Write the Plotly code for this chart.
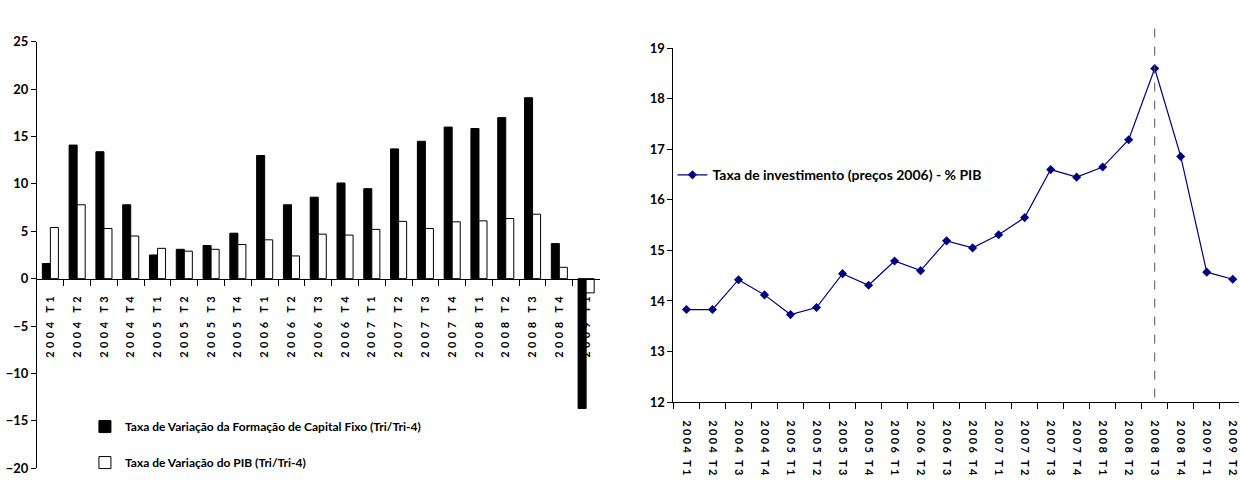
import plotly.graph_objects as go

# Quarterly labels
quarters_left = [
    "2004 T1", "2004 T2", "2004 T3", "2004 T4",
    "2005 T1", "2005 T2", "2005 T3", "2005 T4",
    "2006 T1", "2006 T2", "2006 T3", "2006 T4",
    "2007 T1", "2007 T2", "2007 T3", "2007 T4",
    "2008 T1", "2008 T2", "2008 T3", "2008 T4",
    "2009 T1",
]
quarters_right = quarters_left + ["2009 T2"]

# Year-on-year growth rates (%)
fbcf_growth = [1.6, 14.1, 13.4, 7.8, 2.5, 3.1, 3.5, 4.8, 13.0, 7.8, 8.6,
               10.1, 9.5, 13.7, 14.5, 16.0, 15.85, 17.0, 19.1, 3.7, -13.7]
pib_growth = [5.4, 7.8, 5.3, 4.5, 3.2, 2.9, 3.1, 3.6, 4.1, 2.4, 4.7,
              4.6, 5.2, 6.05, 5.3, 6.0, 6.1, 6.35, 6.8, 1.2, -1.5]

# Investment rate (2006 prices), % of GDP
invest_rate = [13.83, 13.83, 14.42, 14.12, 13.73, 13.87, 14.54, 14.31,
               14.79, 14.60, 15.19, 15.05, 15.31, 15.65, 16.60, 16.45,
               16.65, 17.19, 18.60, 16.86, 14.57, 14.43]

left_yticks = [-20, -15, -10, -5, 0, 5, 10, 15, 20, 25]
right_yticks = [12, 13, 14, 15, 16, 17, 18, 19]
marked_quarter = "2008 T3"

FONT = "Lato"
W, H = 1240, 480


def spaced(labels, gap):
    return [f'<span style="letter-spacing:{gap}px">{t}</span>' for t in labels]


fig = go.Figure()

fig.add_trace(go.Bar(
    x=quarters_left, y=fbcf_growth,
    name="Taxa de Variação da Formação de Capital Fixo (Tri/Tri-4)",
    marker=dict(color="black", line=dict(color="black", width=1)),
    xaxis="x", yaxis="y", legend="legend", legendgroup="a",
))
fig.add_trace(go.Bar(
    x=quarters_left, y=pib_growth,
    name="Taxa de Variação do PIB (Tri/Tri-4)",
    marker=dict(color="white", line=dict(color="black", width=1)),
    xaxis="x", yaxis="y", legend="legend", legendgroup="b",
))
fig.add_trace(go.Scatter(
    x=quarters_right, y=invest_rate, mode="lines+markers",
    name="Taxa de investimento (preços 2006) - % PIB",
    line=dict(color="#000080", width=1.2),
    marker=dict(symbol="diamond", size=7, color="#000080"),
    xaxis="x2", yaxis="y2", legend="legend2",
))

tickfont = dict(family=FONT, size=13, color="black", weight="bold")
xtickfont = dict(family=FONT, size=11, color="black", weight="bold")

# Left panel: plot area x 37..600 px, y 35..476 px (zero line at 280 px)
left_x0, left_x1 = 37 / W, 600 / W
left_y0, left_y1 = (H - 476) / H, (H - 35) / H
zero_pos = left_y0 + (left_y1 - left_y0) * (0 - (-20)) / 45

# Right panel: plot area x 674..1240 px, y 41.7..407.6 px
right_x0 = 674 / W
right_y0, right_y1 = (H - 407.6) / H, (H - 41.7) / H

fig.update_layout(
    width=W, height=H,
    margin=dict(l=0, r=0, t=0, b=0),
    paper_bgcolor="white", plot_bgcolor="white",
    barmode="group", bargap=0.4, bargroupgap=0,
    showlegend=True,
    font=dict(family=FONT, color="black"),
    xaxis=dict(
        domain=[left_x0, left_x1], anchor="free", position=zero_pos,
        type="category", range=[-0.5, len(quarters_left) - 0.5],
        tickvals=quarters_left, ticktext=spaced(quarters_left, 3.4),
        tickangle=-90, tickfont=xtickfont, ticklabelstandoff=9,
        showline=True, linecolor="black", linewidth=1,
        ticks="outside", tickson="boundaries", ticklen=6, tickcolor="black",
        showgrid=False, zeroline=False,
    ),
    yaxis=dict(
        domain=[left_y0, left_y1], anchor="x", range=[-20, 25],
        tickvals=left_yticks, tickfont=tickfont,
        showline=True, linecolor="black", linewidth=1,
        ticks="outside", ticklen=5, tickcolor="black",
        showgrid=False, zeroline=False,
    ),
    xaxis2=dict(
        domain=[right_x0, 1.0], anchor="y2",
        type="category", range=[-0.5, 21.24],
        tickvals=quarters_right, ticktext=spaced(quarters_right, 2.4),
        tickangle=90, tickfont=xtickfont, ticklabelstandoff=15,
        showline=True, linecolor="black", linewidth=1,
        ticks="outside", tickson="boundaries", ticklen=6, tickcolor="black",
        showgrid=False, zeroline=False,
    ),
    yaxis2=dict(
        domain=[right_y0, right_y1], anchor="x2", range=[12, 19],
        tickvals=right_yticks, tickfont=tickfont,
        showline=True, linecolor="black", linewidth=1,
        ticks="outside", ticklen=5, tickcolor="black",
        showgrid=False, zeroline=False,
    ),
    legend=dict(
        x=85 / W, y=(H - 418) / H, xanchor="left", yanchor="top",
        bgcolor="rgba(0,0,0,0)", tracegroupgap=17,
        font=dict(family=FONT, size=12, color="black", weight="bold"),
    ),
    legend2=dict(
        x=673 / W, y=(H - 173) / H, xanchor="left", yanchor="middle",
        bgcolor="rgba(0,0,0,0)",
        font=dict(family=FONT, size=14, color="black", weight="bold"),
    ),
)

# Dashed reference line at the peak quarter
peak_idx = quarters_right.index(marked_quarter)
fig.add_shape(
    type="line", xref="x2", yref="paper",
    x0=peak_idx, x1=peak_idx, y0=(H - 403) / H, y1=(H - 12) / H,
    line=dict(color="#555555", width=1, dash="dash"),
)

fig.write_html("out.html")
